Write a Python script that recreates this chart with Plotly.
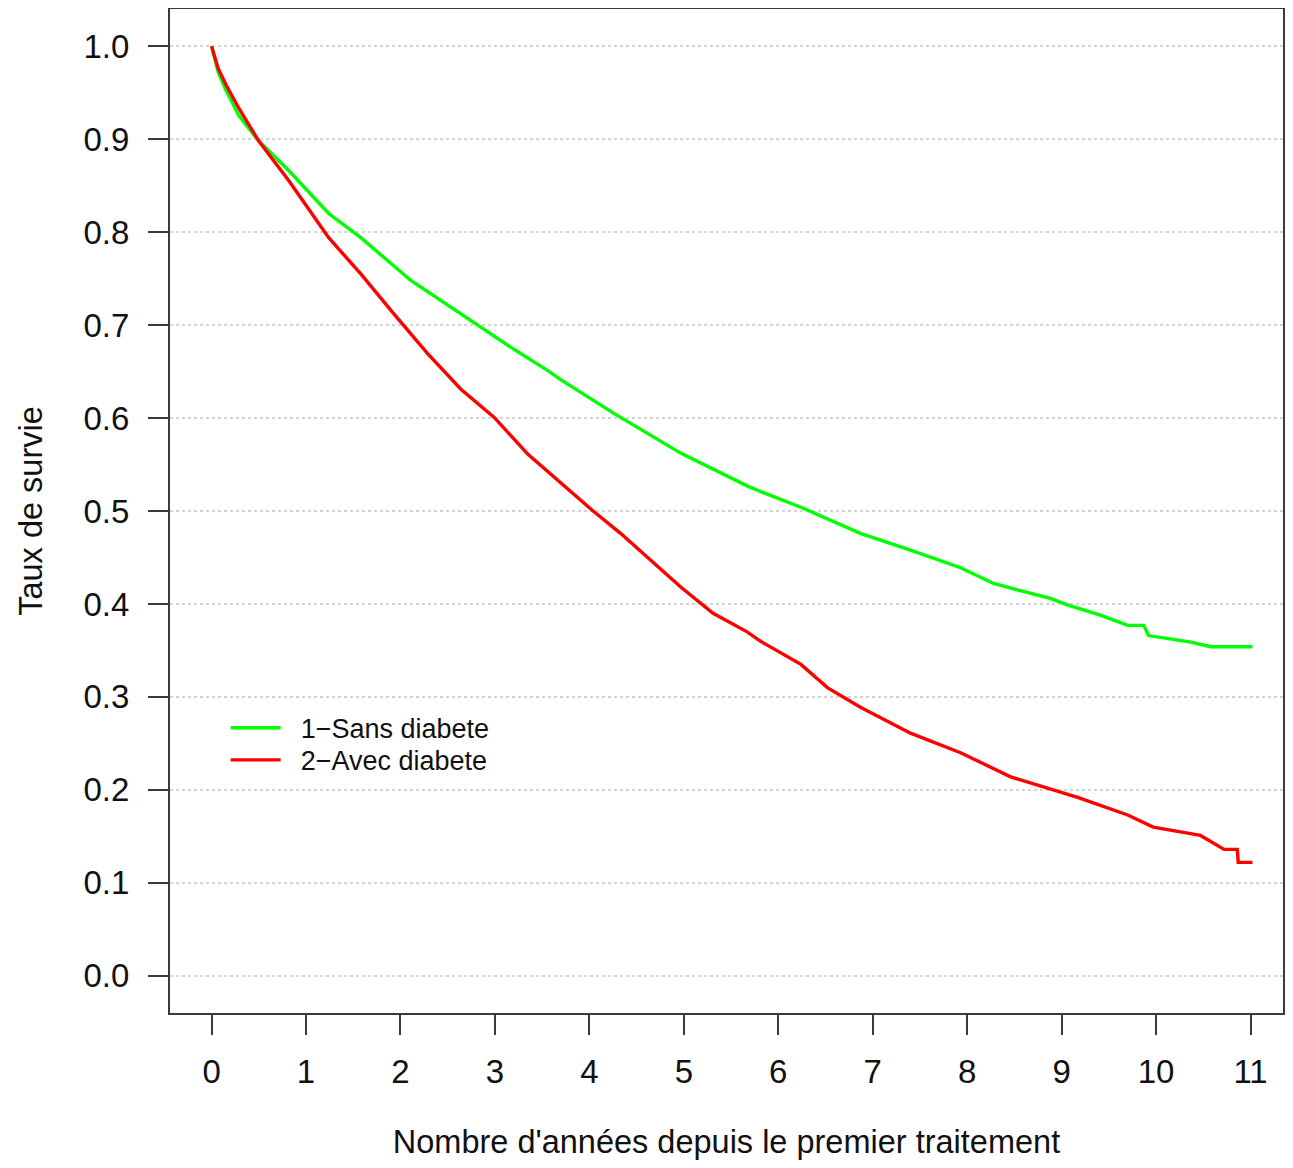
import plotly.graph_objects as go

# ---- data ----
t_sans = [0, 0.07, 0.15, 0.29, 0.5, 0.82, 1.24, 1.58, 2.11, 2.64, 3.17, 3.56, 3.70,
          4.26, 4.97, 5.67, 5.81, 6.24, 6.87, 7.40, 7.93, 8.28, 8.88, 9.06, 9.41, 9.70,
          9.87, 9.92, 10.05, 10.37, 10.58, 11.02]
s_sans = [1.0, 0.972, 0.953, 0.925, 0.898, 0.866, 0.820, 0.794, 0.748, 0.712, 0.676,
          0.651, 0.641, 0.605, 0.562, 0.527, 0.521, 0.504, 0.476, 0.458, 0.439, 0.422,
          0.406, 0.399, 0.388, 0.377, 0.377, 0.366, 0.364, 0.359, 0.354, 0.354]

t_avec = [0, 0.07, 0.15, 0.29, 0.5, 0.82, 1.24, 1.58, 1.93, 2.29, 2.64, 2.99, 3.35,
          3.70, 4.04, 4.33, 4.97, 5.31, 5.67, 5.81, 6.24, 6.52, 6.87, 7.40, 7.93, 8.46,
          8.99, 9.17, 9.70, 9.97, 10.47, 10.58, 10.72, 10.86, 10.87, 11.02]
s_avec = [1.0, 0.976, 0.959, 0.933, 0.898, 0.855, 0.794, 0.755, 0.712, 0.669, 0.631,
          0.601, 0.561, 0.530, 0.500, 0.476, 0.418, 0.390, 0.370, 0.360, 0.335, 0.310,
          0.289, 0.261, 0.240, 0.214, 0.198, 0.192, 0.173, 0.160, 0.151, 0.144, 0.136,
          0.136, 0.122, 0.122]

series_names = ["1\u2212Sans diabete", "2\u2212Avec diabete"]
series_colors = ["#00FF00", "#FF0000"]

x_ticks = list(range(0, 12))
y_ticks = [0.0, 0.1, 0.2, 0.3, 0.4, 0.5, 0.6, 0.7, 0.8, 0.9, 1.0]
y_ticktext = ["%.1f" % v for v in y_ticks]

x_title = "Nombre d'années depuis le premier traitement"
y_title = "Taux de survie"

FONT = "Liberation Sans, Arial, sans-serif"
TXT = "#111111"
AX = "#3a3a3a"

fig = go.Figure()
for t, s, name, col, lg in [(t_sans, s_sans, series_names[0], series_colors[0], "legend"),
                            (t_avec, s_avec, series_names[1], series_colors[1], "legend2")]:
    fig.add_trace(go.Scatter(x=t, y=s, mode="lines", name="\u00a0\u00a0" + name,
                             legend=lg,
                             line=dict(color=col, width=3.4, shape="linear")))

leg_common = dict(xanchor="left", yanchor="middle", bgcolor="rgba(0,0,0,0)",
                  font=dict(size=27, family=FONT, color=TXT), itemwidth=50,
                  borderwidth=0)

# the page body adds an 8px margin on every side; the figure is sized so the page
# does not overflow and the plot box lands at page x 170..1283, y 9..1013
fig.update_layout(
    width=1277, height=1152, autosize=False,
    margin=dict(l=162, r=2, t=1, b=147),
    paper_bgcolor="white", plot_bgcolor="white",
    font=dict(family=FONT, color=TXT),
    showlegend=True,
    legend=dict(x=0.05, y=0.2836, **leg_common),
    legend2=dict(x=0.05, y=0.2517, **leg_common),
)

fig.update_xaxes(
    range=[-0.44, 11.344], tickvals=x_ticks, ticktext=[str(v) for v in x_ticks],
    ticks="outside", ticklen=20, tickwidth=2, tickcolor=AX,
    showline=True, linecolor=AX, linewidth=2, mirror=True,
    showgrid=False, zeroline=False, automargin=False,
    tickfont=dict(size=33, family=FONT, color=TXT),
    ticklabelstandoff=8,
    title=dict(text=x_title, font=dict(size=32.5, family=FONT, color=TXT), standoff=54),
)
fig.update_yaxes(
    range=[-0.04, 1.04], tickvals=y_ticks, ticktext=y_ticktext,
    ticks="outside", ticklen=20, tickwidth=2, tickcolor=AX,
    showline=True, linecolor=AX, linewidth=2, mirror=True,
    showgrid=True, gridcolor="#d4d4d4", gridwidth=1.5, griddash="dot",
    zeroline=False, automargin=False,
    tickfont=dict(size=33, family=FONT, color=TXT),
    ticklabelstandoff=12,
    title=dict(text=y_title, font=dict(size=32.5, family=FONT, color=TXT), standoff=31),
)

fig.write_html("out.html")
